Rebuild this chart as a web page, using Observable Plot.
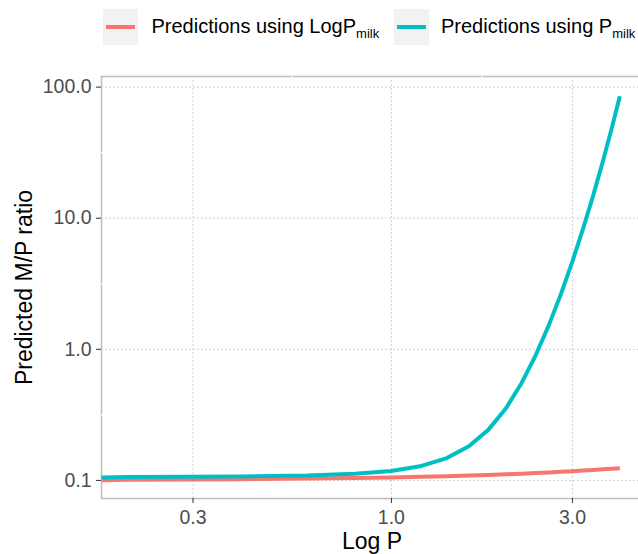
<!DOCTYPE html>
<html>
<head>
<meta charset="utf-8">
<script src="https://cdn.jsdelivr.net/npm/d3@7"></script>
<script src="https://cdn.jsdelivr.net/npm/@observablehq/plot@0.6"></script>
<style>
  html, body { margin: 0; padding: 0; background: #fff; overflow: hidden; }
  #wrap { position: relative; width: 638px; height: 554px; overflow: hidden;
          font-family: "Liberation Sans", Arial, Helvetica, sans-serif; }
  #wrap svg { position: absolute; left: 0; top: 0; max-width: none !important; }
  .key { position: absolute; top: 9px; width: 35px; height: 36px; background: #f2f2f2; }
  .key i { position: absolute; left: 3px; right: 3px; top: 16px; height: 4px; }
  .lab { position: absolute; top: 16px; font-size: 20px; line-height: 20px; white-space: nowrap; color: #000; }
  .lab span { font-size: 13px; position: relative; top: 5px; }
</style>
</head>
<body>
<div id="wrap"></div>
<script>
// ---- data ----
const logP = [0.1722, 0.2, 0.4, 0.6, 0.8, 1.0, 1.2, 1.4, 1.6, 1.8, 2.0, 2.2, 2.4, 2.6, 2.8, 3.0, 3.2, 3.4, 3.6, 3.8, 4.0];
const predLogPmilk = [0.1005, 0.1011, 0.1022, 0.1033, 0.1044, 0.1055, 0.1067, 0.1078, 0.109, 0.1102, 0.1114, 0.1126, 0.1138, 0.1151, 0.1163, 0.1176, 0.1189, 0.1202, 0.1215, 0.1228, 0.1241];
const predPmilk = [0.1055, 0.1063, 0.1073, 0.1091, 0.1125, 0.118, 0.129, 0.148, 0.182, 0.243, 0.352, 0.549, 0.90, 1.53, 2.66, 4.69, 8.32, 14.8, 26.5, 47.5, 85.1];
const seriesNames = ["Predictions using LogP", "Predictions using P"];
const seriesSub = ["milk", "milk"];
const seriesColors = ["#F8766D", "#00BFC4"];
const xTicks = [0.3, 1, 3];
const xTickLabels = ["0.3", "1.0", "3.0"];
const yTicks = [0.1, 1, 10, 100];
const yTickLabels = ["0.1", "1.0", "10.0", "100.0"];
const xMinor = [0.5477, 1.732];
const yMinor = [0.3162, 3.162, 31.62];
const xDomain = [0.1722, 4.645];
const yDomain = [0.0728, 120.5];
const xTitle = "Log P";
const yTitle = "Predicted M/P ratio";

const FONT = "Liberation Sans, Arial, Helvetica, sans-serif";
const rowsA = logP.map((x, i) => ({x, y: predLogPmilk[i]}));
const rowsB = logP.map((x, i) => ({x, y: predPmilk[i]}));

const plot = Plot.plot({
  width: 644, height: 554,
  marginLeft: 101, marginRight: 0, marginTop: 76, marginBottom: 56,
  style: {fontFamily: FONT, fontSize: "19.5px", color: "#4d4d4d", background: "transparent", maxWidth: "none", overflow: "visible"},
  x: {type: "log", domain: xDomain},
  y: {type: "log", domain: yDomain},
  marks: [
    Plot.frame({stroke: "#bdbdbd", strokeWidth: 1.5}),
    Plot.ruleX(xMinor, {stroke: "white", strokeWidth: 1.2}),
    Plot.ruleY(yMinor, {stroke: "white", strokeWidth: 1.2}),
    Plot.ruleX(xTicks, {stroke: "#d2d2d2", strokeWidth: 1, strokeDasharray: "2,2"}),
    Plot.ruleY(yTicks, {stroke: "#d2d2d2", strokeWidth: 1, strokeDasharray: "2,2"}),
    Plot.line(rowsA, {x: "x", y: "y", stroke: seriesColors[0], strokeWidth: 4, strokeLinecap: "butt"}),
    Plot.line(rowsB, {x: "x", y: "y", stroke: seriesColors[1], strokeWidth: 4, strokeLinecap: "butt"}),
    Plot.axisX(xTicks, {tickSize: 5, tickPadding: 7, tickFormat: d => xTickLabels[xTicks.indexOf(d)], label: null, stroke: "#333"}),
    Plot.axisY(yTicks, {tickSize: 5, tickPadding: 5, tickFormat: d => yTickLabels[yTicks.indexOf(d)], label: null, stroke: "#333"})
  ]
});

const wrap = document.getElementById("wrap");
wrap.appendChild(plot);
const svg = d3.select(plot);
svg.append("text").attr("x", 372).attr("y", 548.5).attr("text-anchor", "middle")
  .attr("font-family", FONT).attr("font-size", 23).attr("fill", "#000").text(xTitle);
svg.append("text").attr("transform", "translate(31.5,287.5) rotate(-90)").attr("text-anchor", "middle")
  .attr("font-family", FONT).attr("font-size", 23).attr("fill", "#000").text(yTitle);

// ---- legend ----
const keyLeft = [103, 394];
const labLeft = [151.5, 441];
seriesNames.forEach((name, i) => {
  const k = document.createElement("div");
  k.className = "key"; k.style.left = keyLeft[i] + "px";
  const ln = document.createElement("i"); ln.style.background = seriesColors[i];
  k.appendChild(ln); wrap.appendChild(k);
  const t = document.createElement("div");
  t.className = "lab"; t.style.left = labLeft[i] + "px";
  t.appendChild(document.createTextNode(name));
  const s = document.createElement("span"); s.textContent = seriesSub[i];
  t.appendChild(s);
  wrap.appendChild(t);
});
</script>
</body>
</html>
